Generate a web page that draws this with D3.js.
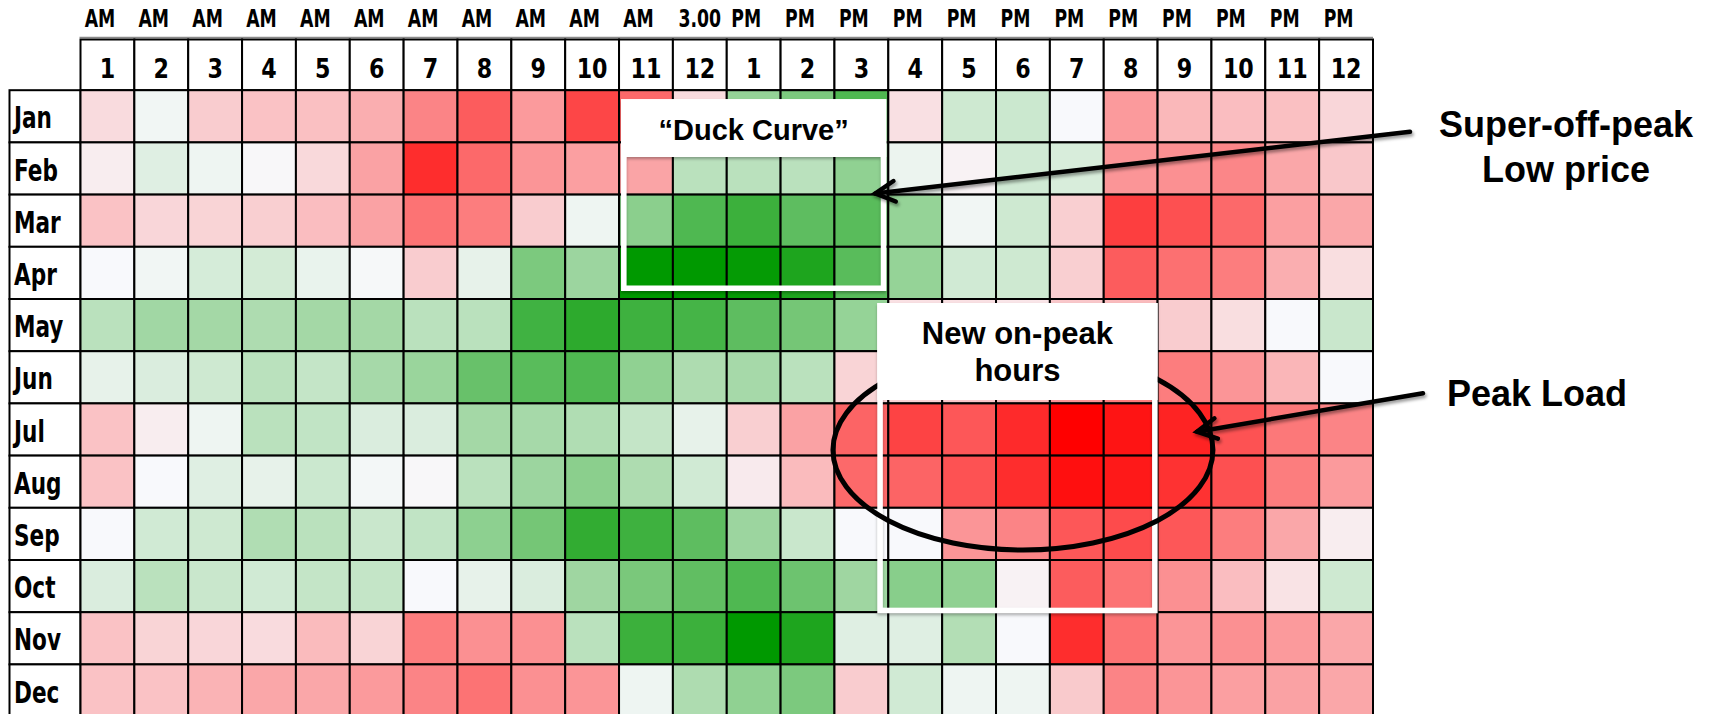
<!DOCTYPE html>
<html><head><meta charset="utf-8">
<script src="https://cdn.jsdelivr.net/npm/d3@7"></script>
<style>html,body{margin:0;padding:0;background:#fff;} svg{display:block;}</style>
</head><body>
<svg id="chart" width="1714" height="714"></svg>
<script>
// ---------------- data ----------------
const months = ["Jan","Feb","Mar","Apr","May","Jun","Jul","Aug","Sep","Oct","Nov","Dec"];
const hourLabels = ["1","2","3","4","5","6","7","8","9","10","11","12","1","2","3","4","5","6","7","8","9","10","11","12"];
const periodLabels = ["AM","AM","AM","AM","AM","AM","AM","AM","AM","AM","AM","3.00","PM","PM","PM","PM","PM","PM","PM","PM","PM","PM","PM","PM"];
// relative price index: -100 = lowest (deep green), +100 = highest (deep red)
const jan = [12,-3,18,22,23,30,47,63,38,72,58,12,-40,-50,-68,10,-17,-18,0,38,26,24,23,14];
const feb = [5,-10,-4,1,13,35,82,58,40,36,34,-25,-25,-25,-42,-5,3,-16,-13,40,42,46,33,20];
const mar = [22,14,15,17,24,35,54,50,18,-4,-44,-68,-76,-62,-64,-40,-3,-17,17,75,68,58,36,33];
const apr = [0,-3,-14,-15,-6,-1,18,-7,-50,-37,-100,-100,-98,-88,-64,-40,-16,-17,17,63,55,50,30,11];
const may = [-25,-35,-34,-30,-34,-34,-25,-25,-74,-82,-75,-72,-62,-53,-40,10,10,8,20,25,18,11,0,-19];
const jun = [-7,-12,-17,-25,-21,-33,-38,-58,-64,-68,-42,-30,-33,-25,15,15,20,25,40,50,50,40,27,0];
const jul = [22,5,-4,-25,-22,-12,-12,-34,-33,-29,-21,-7,17,35,60,73,65,83,100,92,86,67,52,47];
const aug = [22,0,-10,-7,-18,-2,1,-25,-37,-44,-30,-16,6,25,58,60,67,82,94,90,80,68,50,38];
const sep = [0,-16,-17,-29,-25,-19,-22,-43,-53,-80,-75,-62,-37,-19,0,0,40,47,65,70,65,50,33,5];
const oct = [-12,-25,-19,-16,-21,-21,0,-7,-12,-36,-51,-61,-68,-56,-36,-45,-42,3,63,54,42,24,9,-17];
const nov = [22,15,14,12,25,15,50,42,42,-25,-76,-76,-100,-88,-10,-10,-28,0,82,54,40,42,38,33];
const dec = [22,22,28,33,33,38,47,54,42,40,-4,-30,-42,-50,18,-16,-4,-4,19,47,40,36,35,33];
const values = [jan,feb,mar,apr,may,jun,jul,aug,sep,oct,nov,dec];

// ---------------- layout ----------------
const svg = d3.select("#chart");
svg.append("rect").attr("width",1714).attr("height",714).attr("fill","#fff");

const gridLeft = 80.5, gridRight = 1373, gridTop = 90.2, rowH = 52.2;
const x = d3.scaleBand().domain(d3.range(24)).range([gridLeft, gridRight]);
const y = d3.scaleBand().domain(months).range([gridTop, gridTop + rowH*months.length]);
const color = d3.scaleLinear().domain([-100,0,100]).range(["#009900","#F8F9FC","#FF0000"]).clamp(true);

const defs = svg.append("defs");
const sh = defs.append("filter").attr("id","shadow").attr("x","-20%").attr("y","-20%").attr("width","140%").attr("height","160%");
sh.append("feDropShadow").attr("dx",1.5).attr("dy",2.5).attr("stdDeviation",1.8).attr("flood-color","#000").attr("flood-opacity",0.4);
const sh2 = defs.append("filter").attr("id","boxshadow").attr("x","-10%").attr("y","-10%").attr("width","120%").attr("height","120%");
sh2.append("feDropShadow").attr("dx",0).attr("dy",2).attr("stdDeviation",1.5).attr("flood-color","#000").attr("flood-opacity",0.3);

const hdrFont = "'DejaVu Sans Condensed','DejaVu Sans',sans-serif";
const annFont = "'Liberation Sans',Arial,Helvetica,sans-serif";

// grey rule above header
svg.append("line").attr("x1",gridLeft-1).attr("x2",gridRight).attr("y1",37.5).attr("y2",37.5)
  .attr("stroke","#8a8a8a").attr("stroke-width",1.5);

// period labels
svg.append("g").selectAll("text").data(periodLabels).join("text")
  .attr("transform",(d,i)=>`translate(${x(i)+x.bandwidth()/2 + (d==="3.00"?0:-7.5)},27) scale(0.8,1)`)
  .attr("text-anchor","middle").attr("font-family",hdrFont).attr("font-weight","bold")
  .attr("font-size",24).attr("fill","#000").text(d=>d);

// header number cells
const hdr = svg.append("g");
hdr.selectAll("rect").data(hourLabels).join("rect")
  .attr("x",(d,i)=>x(i)).attr("y",39.5).attr("width",x.bandwidth()).attr("height",gridTop-39.5)
  .attr("fill","#fff").attr("stroke","#000").attr("stroke-width",2);
hdr.selectAll("text").data(hourLabels).join("text")
  .attr("transform",(d,i)=>`translate(${x(i)+x.bandwidth()/2},77.5) scale(0.95,1)`)
  .attr("text-anchor","middle").attr("font-family",hdrFont).attr("font-weight","bold")
  .attr("font-size",26).attr("fill","#000").text(d=>d);

// month label cells
const ml = svg.append("g");
ml.selectAll("rect").data(months).join("rect")
  .attr("x",9.5).attr("y",d=>y(d)).attr("width",gridLeft-9.5).attr("height",y.bandwidth())
  .attr("fill","#fff").attr("stroke","#000").attr("stroke-width",2);
ml.selectAll("text").data(months).join("text")
  .attr("transform",d=>`translate(14,${y(d)+y.bandwidth()/2+12}) scale(0.8,1)`)
  .attr("font-family",hdrFont).attr("font-weight","bold").attr("font-size",30).attr("fill","#000").text(d=>d);

// heat cells
const cells = [];
values.forEach((row,i)=>row.forEach((v,j)=>cells.push({m:months[i],h:j,v})));
svg.append("g").selectAll("rect").data(cells).join("rect")
  .attr("x",d=>x(d.h)).attr("y",d=>y(d.m)).attr("width",x.bandwidth()).attr("height",y.bandwidth())
  .attr("fill",d=>color(d.v)).attr("stroke","#000").attr("stroke-width",2);

// ---------------- annotations ----------------
const bw = x.bandwidth(), bh = y.bandwidth();
// Duck curve box (hours 11AM-3PM, Jan-Apr)
const dL = x(10)+2, dR = x(14)+bw-2, dT = y("Jan")+9, dB = y("Apr")+bh-8;
const duck = svg.append("g").attr("filter","url(#boxshadow)");
duck.append("rect").attr("x",dL+2.75).attr("y",dT+2.75).attr("width",dR-dL-5.5).attr("height",dB-dT-5.5)
  .attr("fill","none").attr("stroke","#fff").attr("stroke-width",5.5);
duck.append("rect").attr("x",dL).attr("y",dT).attr("width",dR-dL).attr("height",157-dT).attr("fill","#fff");
svg.append("text").attr("x",(dL+dR)/2).attr("y",140).attr("text-anchor","middle")
  .attr("font-family",annFont).attr("font-weight","bold").attr("font-size",29).attr("fill","#000")
  .text("\u201CDuck Curve\u201D");

// New on-peak box (4PM-8PM, May-Oct)
const pL = x(15)-11, pR = x(19)+bw, pT = y("May")+4, pB = y("Oct")+bh+1;
const peak = svg.append("g").attr("filter","url(#boxshadow)");
peak.append("rect").attr("x",pL+2.75).attr("y",pT+2.75).attr("width",pR-pL-5.5).attr("height",pB-pT-5.5)
  .attr("fill","none").attr("stroke","#fff").attr("stroke-width",5.5);

// ellipse around summer peak
svg.append("ellipse").attr("cx",x(17)+bw/2).attr("cy",450).attr("rx",190).attr("ry",100)
  .attr("fill","none").attr("stroke","#000").attr("stroke-width",5);

svg.append("rect").attr("x",pL).attr("y",pT).attr("width",pR-pL).attr("height",400-pT).attr("fill","#fff");
const pt = svg.append("text").attr("text-anchor","middle").attr("font-family",annFont)
  .attr("font-weight","bold").attr("font-size",31).attr("fill","#000");
pt.append("tspan").attr("x",(pL+pR)/2).attr("y",343.5).text("New on-peak");
pt.append("tspan").attr("x",(pL+pR)/2).attr("y",381).text("hours");

// arrows
function arrow(x1,y1,x2,y2){
  const g = svg.append("g").attr("filter","url(#shadow)");
  g.append("line").attr("x1",x1).attr("y1",y1).attr("x2",x2).attr("y2",y2)
    .attr("stroke","#000").attr("stroke-width",4.5).attr("stroke-linecap","round");
  const a = Math.atan2(y1-y2,x1-x2), L = 22, w = 28*Math.PI/180;
  const p1 = [x2+L*Math.cos(a-w), y2+L*Math.sin(a-w)];
  const p2 = [x2+L*Math.cos(a+w), y2+L*Math.sin(a+w)];
  g.append("path").attr("d",`M${p1[0]},${p1[1]}L${x2},${y2}L${p2[0]},${p2[1]}`)
    .attr("fill","none").attr("stroke","#000").attr("stroke-width",4.5)
    .attr("stroke-linecap","round").attr("stroke-linejoin","miter");
}
arrow(1410,131.7,dR-11,193.5);
arrow(1423,393.3,1197,431.7);

// right side labels
const rt = svg.append("text").attr("text-anchor","middle").attr("font-family",annFont)
  .attr("font-weight","bold").attr("font-size",36).attr("fill","#000");
rt.append("tspan").attr("x",1566).attr("y",136.7).text("Super-off-peak");
rt.append("tspan").attr("x",1566).attr("y",181.7).text("Low price");
svg.append("text").attr("x",1537).attr("y",406).attr("text-anchor","middle").attr("font-family",annFont)
  .attr("font-weight","bold").attr("font-size",36).attr("fill","#000").text("Peak Load");
</script>
</body></html>
